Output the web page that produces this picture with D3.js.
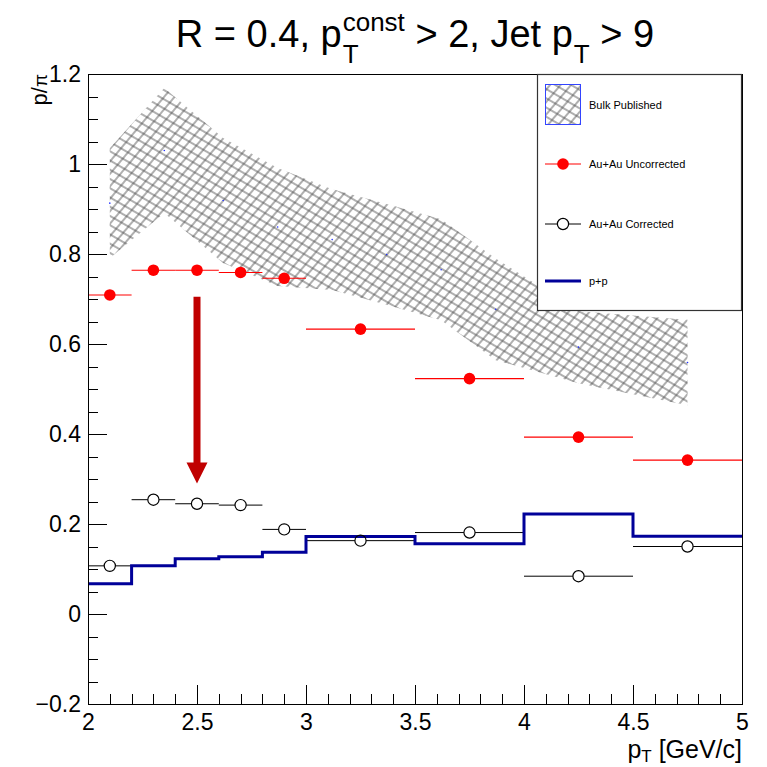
<!DOCTYPE html>
<html>
<head>
<meta charset="utf-8">
<script src="https://cdn.jsdelivr.net/npm/d3@7"></script>
<style>
  html, body { margin: 0; padding: 0; background: #fff; }
  svg { display: block; font-family: "Liberation Sans", Arial, Helvetica, sans-serif; }
  text { white-space: pre; }
</style>
</head>
<body>
<script>
// ---- data ----
// bin edges shared by the jet measurements
const binLow  = [2.0, 2.2, 2.4, 2.6, 2.8, 3.0, 3.5, 4.0, 4.5];
const binHigh = [2.2, 2.4, 2.6, 2.8, 3.0, 3.5, 4.0, 4.5, 5.0];
const binCenter = [2.1, 2.3, 2.5, 2.7, 2.9, 3.25, 3.75, 4.25, 4.75];

// Au+Au p/pi, uncorrected and corrected
const auauUncorrected = [0.709, 0.764, 0.764, 0.759, 0.746, 0.633, 0.523, 0.393, 0.342];
const auauCorrected   = [0.107, 0.254, 0.245, 0.242, 0.188, 0.163, 0.181, 0.084, 0.150];

// p+p reference histogram
const ppValues = [0.067, 0.107, 0.123, 0.127, 0.137, 0.172, 0.156, 0.222, 0.173];

// published bulk p/pi band: centre and half-width
const bulkPt    = [2.1, 2.35, 2.62, 2.87, 3.12, 3.37, 3.62, 3.87, 4.25, 4.75];
const bulkValue = [0.913, 1.030, 0.919, 0.860, 0.832, 0.799, 0.765, 0.677, 0.593, 0.559];
const bulkErr   = [0.122, 0.139, 0.139, 0.131, 0.112, 0.112, 0.112, 0.113, 0.080, 0.095];

// correction arrow
const arrowX = 2.5;
const arrowY = [0.705, 0.29];

// axes
const xTicks = [2, 2.5, 3, 3.5, 4, 4.5, 5];
const xTickLabels = ["2", "2.5", "3", "3.5", "4", "4.5", "5"];
const yTicks = [-0.2, 0, 0.2, 0.4, 0.6, 0.8, 1.0, 1.2];
const yTickLabels = ["\u22120.2", "0", "0.2", "0.4", "0.6", "0.8", "1", "1.2"];

const legendLabels = ["Bulk Published", "Au+Au Uncorrected", "Au+Au Corrected", "p+p"];

// ---- layout ----
const W = 767, H = 767;
const frame = { left: 88, right: 742, top: 74, bottom: 704 };

const svg = d3.select("body").append("svg")
  .attr("width", W).attr("height", H);

const x = d3.scaleLinear().domain([2, 5]).range([frame.left, frame.right]);
const y = d3.scaleLinear().domain([-0.2, 1.2]).range([frame.bottom, frame.top]);

// hatch patterns (two line families crossed)
const defs = svg.append("defs");
function hatch(id, angle) {
  const s = 8;
  const p = defs.append("pattern")
    .attr("id", id)
    .attr("patternUnits", "userSpaceOnUse")
    .attr("width", s).attr("height", s)
    .attr("patternTransform", `rotate(${angle})`);
  p.append("line")
    .attr("x1", 0).attr("x2", s)
    .attr("y1", s / 2).attr("y2", s / 2)
    .attr("stroke", "#4e4e4e").attr("stroke-width", 0.9);
}
hatch("hatchA", 30);
hatch("hatchB", -50);

defs.append("clipPath").attr("id", "frameClip")
  .append("rect")
  .attr("x", frame.left).attr("y", frame.top)
  .attr("width", frame.right - frame.left)
  .attr("height", frame.bottom - frame.top);

const plot = svg.append("g").attr("clip-path", "url(#frameClip)");

// ---- bulk band ----
const bulk = bulkPt.map((p, i) => ({ p, v: bulkValue[i], e: bulkErr[i] }));
const bandArea = d3.area()
  .x(d => x(d.p))
  .y0(d => y(d.v - d.e))
  .y1(d => y(d.v + d.e));
["hatchA", "hatchB"].forEach(id => {
  plot.append("path")
    .datum(bulk)
    .attr("d", bandArea)
    .attr("fill", `url(#${id})`)
    .attr("stroke", "none");
});
plot.selectAll("circle.bulk")
  .data(bulk)
  .join("circle")
  .attr("class", "bulk")
  .attr("cx", d => x(d.p))
  .attr("cy", d => y(d.v))
  .attr("r", 0.8)
  .attr("fill", "#2030ff");

// ---- Au+Au uncorrected ----
const unc = binCenter.map((c, i) => ({ c, lo: binLow[i], hi: binHigh[i], v: auauUncorrected[i] }));
const rMarker = 5.8;
plot.selectAll("line.uncErr")
  .data(unc)
  .join("line")
  .attr("class", "uncErr")
  .attr("x1", d => x(d.lo)).attr("x2", d => x(d.hi))
  .attr("y1", d => y(d.v)).attr("y2", d => y(d.v))
  .attr("stroke", "#ff0000").attr("stroke-width", 1.1);
plot.selectAll("circle.unc")
  .data(unc)
  .join("circle")
  .attr("class", "unc")
  .attr("cx", d => x(d.c)).attr("cy", d => y(d.v))
  .attr("r", rMarker)
  .attr("fill", "#ff0000");

// ---- Au+Au corrected ----
const cor = binCenter.map((c, i) => ({ c, lo: binLow[i], hi: binHigh[i], v: auauCorrected[i] }));
const rOpen = 5.6;
plot.selectAll("line.corErrL")
  .data(cor)
  .join("line")
  .attr("class", "corErrL")
  .attr("x1", d => x(d.lo)).attr("x2", d => x(d.c) - rOpen)
  .attr("y1", d => y(d.v)).attr("y2", d => y(d.v))
  .attr("stroke", "#000").attr("stroke-width", 1);
plot.selectAll("line.corErrR")
  .data(cor)
  .join("line")
  .attr("class", "corErrR")
  .attr("x1", d => x(d.c) + rOpen).attr("x2", d => x(d.hi))
  .attr("y1", d => y(d.v)).attr("y2", d => y(d.v))
  .attr("stroke", "#000").attr("stroke-width", 1);

// ---- p+p histogram ----
const ppSteps = [];
binLow.forEach((lo, i) => {
  ppSteps.push([lo, ppValues[i]]);
  ppSteps.push([binHigh[i], ppValues[i]]);
});
plot.append("path")
  .datum(ppSteps)
  .attr("d", d3.line().x(d => x(d[0])).y(d => y(d[1])))
  .attr("fill", "none")
  .attr("stroke", "#000099")
  .attr("stroke-width", 3)
  .attr("stroke-linejoin", "miter");

plot.selectAll("circle.cor")
  .data(cor)
  .join("circle")
  .attr("class", "cor")
  .attr("cx", d => x(d.c)).attr("cy", d => y(d.v))
  .attr("r", rOpen)
  .attr("fill", "none")
  .attr("stroke", "#000").attr("stroke-width", 1.2);

// ---- arrow ----
const headLen = 21, headHalf = 10.5;
const ax = x(arrowX);
plot.append("line")
  .attr("x1", ax).attr("x2", ax)
  .attr("y1", y(arrowY[0])).attr("y2", y(arrowY[1]) - headLen + 1)
  .attr("stroke", "#c00000").attr("stroke-width", 7);
plot.append("path")
  .attr("d", `M${ax - headHalf},${y(arrowY[1]) - headLen} L${ax + headHalf},${y(arrowY[1]) - headLen} L${ax},${y(arrowY[1])} Z`)
  .attr("fill", "#c00000");

// ---- axes ----
const tickFont = 23;
const yMinor = d3.range(-0.2, 1.2001, 0.05);
const xMinor = d3.range(2, 5.0001, 0.1);

svg.append("g")
  .attr("transform", `translate(${frame.left},0)`)
  .call(d3.axisLeft(y).tickValues(yMinor).tickSize(-10).tickFormat(""))
  .call(g => g.select(".domain").remove())
  .call(g => g.selectAll("line").attr("stroke", "#000").attr("shape-rendering", "crispEdges"));
svg.append("g")
  .attr("transform", `translate(0,${frame.bottom})`)
  .call(d3.axisBottom(x).tickValues(xMinor).tickSize(-10).tickFormat(""))
  .call(g => g.select(".domain").remove())
  .call(g => g.selectAll("line").attr("stroke", "#000").attr("shape-rendering", "crispEdges"));

svg.append("g")
  .attr("transform", `translate(${frame.left},0)`)
  .call(d3.axisLeft(y).tickValues(yTicks).tickSize(-19).tickPadding(7)
        .tickFormat((d, i) => yTickLabels[i]))
  .call(g => g.select(".domain").remove())
  .call(g => g.selectAll("line").attr("stroke", "#000").attr("shape-rendering", "crispEdges"))
  .call(g => g.selectAll("text")
        .attr("font-size", tickFont)
        .attr("font-family", "'Liberation Sans', Arial, sans-serif")
        .attr("fill", "#000"));

svg.append("g")
  .attr("transform", `translate(0,${frame.bottom})`)
  .call(d3.axisBottom(x).tickValues(xTicks).tickSize(-19).tickPadding(10)
        .tickFormat((d, i) => xTickLabels[i]))
  .call(g => g.select(".domain").remove())
  .call(g => g.selectAll("line").attr("stroke", "#000").attr("shape-rendering", "crispEdges"))
  .call(g => g.selectAll("text")
        .attr("font-size", tickFont)
        .attr("font-family", "'Liberation Sans', Arial, sans-serif")
        .attr("fill", "#000"));

// frame
svg.append("rect")
  .attr("x", frame.left).attr("y", frame.top)
  .attr("width", frame.right - frame.left)
  .attr("height", frame.bottom - frame.top)
  .attr("fill", "none").attr("stroke", "#000").attr("stroke-width", 1)
  .attr("shape-rendering", "crispEdges");

// ---- axis titles ----
const yTitle = svg.append("text")
  .attr("transform", `translate(47,${frame.top}) rotate(-90)`)
  .attr("text-anchor", "end")
  .attr("font-size", 22);
yTitle.append("tspan").text("p/");
yTitle.append("tspan").attr("font-size", 19).text("\u03c0");

const xTitle = svg.append("text")
  .attr("x", frame.right).attr("y", 758)
  .attr("text-anchor", "end")
  .attr("font-size", 25);
xTitle.append("tspan").text("p");
xTitle.append("tspan").attr("font-size", 17).attr("dy", 4).text("T");
xTitle.append("tspan").attr("dy", -4).text(" [GeV/c]");

// ---- title ----
const titleSize = 38, scriptSize = 26;
const titleG = svg.append("g");
const titleParts = [
  { main: "R = 0.4, p" },
  { sup: "const", sub: "T" },
  { main: " > 2, Jet p" },
  { sub: "T" },
  { main: " > 9" }
];
let cursor = 0;
titleParts.forEach(part => {
  if (part.main) {
    const t = titleG.append("text").attr("x", cursor).attr("y", 0)
      .attr("font-size", titleSize).text(part.main);
    cursor += t.node().getComputedTextLength();
  } else {
    let w = 0;
    if (part.sup) {
      const t = titleG.append("text").attr("x", cursor + 1).attr("y", -16)
        .attr("font-size", scriptSize).text(part.sup);
      w = Math.max(w, t.node().getComputedTextLength() + 1);
    }
    if (part.sub) {
      const t = titleG.append("text").attr("x", cursor + 1).attr("y", 16)
        .attr("font-size", scriptSize).text(part.sub);
      w = Math.max(w, t.node().getComputedTextLength() + 1);
    }
    cursor += w;
  }
});
titleG.attr("transform", `translate(${415 - cursor / 2},47)`);

// ---- legend ----
const lg = svg.append("g");
lg.append("rect")
  .attr("x", 537.5).attr("y", 74.5)
  .attr("width", 204).attr("height", 236)
  .attr("fill", "#fff").attr("stroke", "#333").attr("stroke-width", 1.2);

const legendRows = [105, 164, 224, 281];
const symX0 = 545, symX1 = 581, textX = 589;

// band swatch
["hatchA", "hatchB"].forEach(id => {
  lg.append("rect")
    .attr("x", symX0).attr("y", 84).attr("width", symX1 - symX0).attr("height", 41)
    .attr("fill", `url(#${id})`);
});
lg.append("rect")
  .attr("x", symX0 + 0.5).attr("y", 84.5).attr("width", symX1 - symX0 - 1).attr("height", 40)
  .attr("fill", "none").attr("stroke", "#3344ff").attr("stroke-width", 1);

// uncorrected
lg.append("line").attr("x1", symX0).attr("x2", symX1)
  .attr("y1", legendRows[1]).attr("y2", legendRows[1])
  .attr("stroke", "#ff0000").attr("stroke-width", 1.1);
lg.append("circle").attr("cx", (symX0 + symX1) / 2).attr("cy", legendRows[1])
  .attr("r", rMarker).attr("fill", "#ff0000");

// corrected
const cx = (symX0 + symX1) / 2;
lg.append("line").attr("x1", symX0).attr("x2", cx - rOpen)
  .attr("y1", legendRows[2]).attr("y2", legendRows[2]).attr("stroke", "#000");
lg.append("line").attr("x1", cx + rOpen).attr("x2", symX1)
  .attr("y1", legendRows[2]).attr("y2", legendRows[2]).attr("stroke", "#000");
lg.append("circle").attr("cx", cx).attr("cy", legendRows[2])
  .attr("r", rOpen).attr("fill", "none").attr("stroke", "#000").attr("stroke-width", 1.2);

// p+p
lg.append("line").attr("x1", symX0).attr("x2", symX1)
  .attr("y1", legendRows[3]).attr("y2", legendRows[3])
  .attr("stroke", "#000099").attr("stroke-width", 3);

lg.selectAll("text.leg")
  .data(legendLabels)
  .join("text")
  .attr("class", "leg")
  .attr("x", textX)
  .attr("y", (d, i) => legendRows[i])
  .attr("dy", "0.35em")
  .attr("font-size", 11)
  .text(d => d);
</script>
</body>
</html>
